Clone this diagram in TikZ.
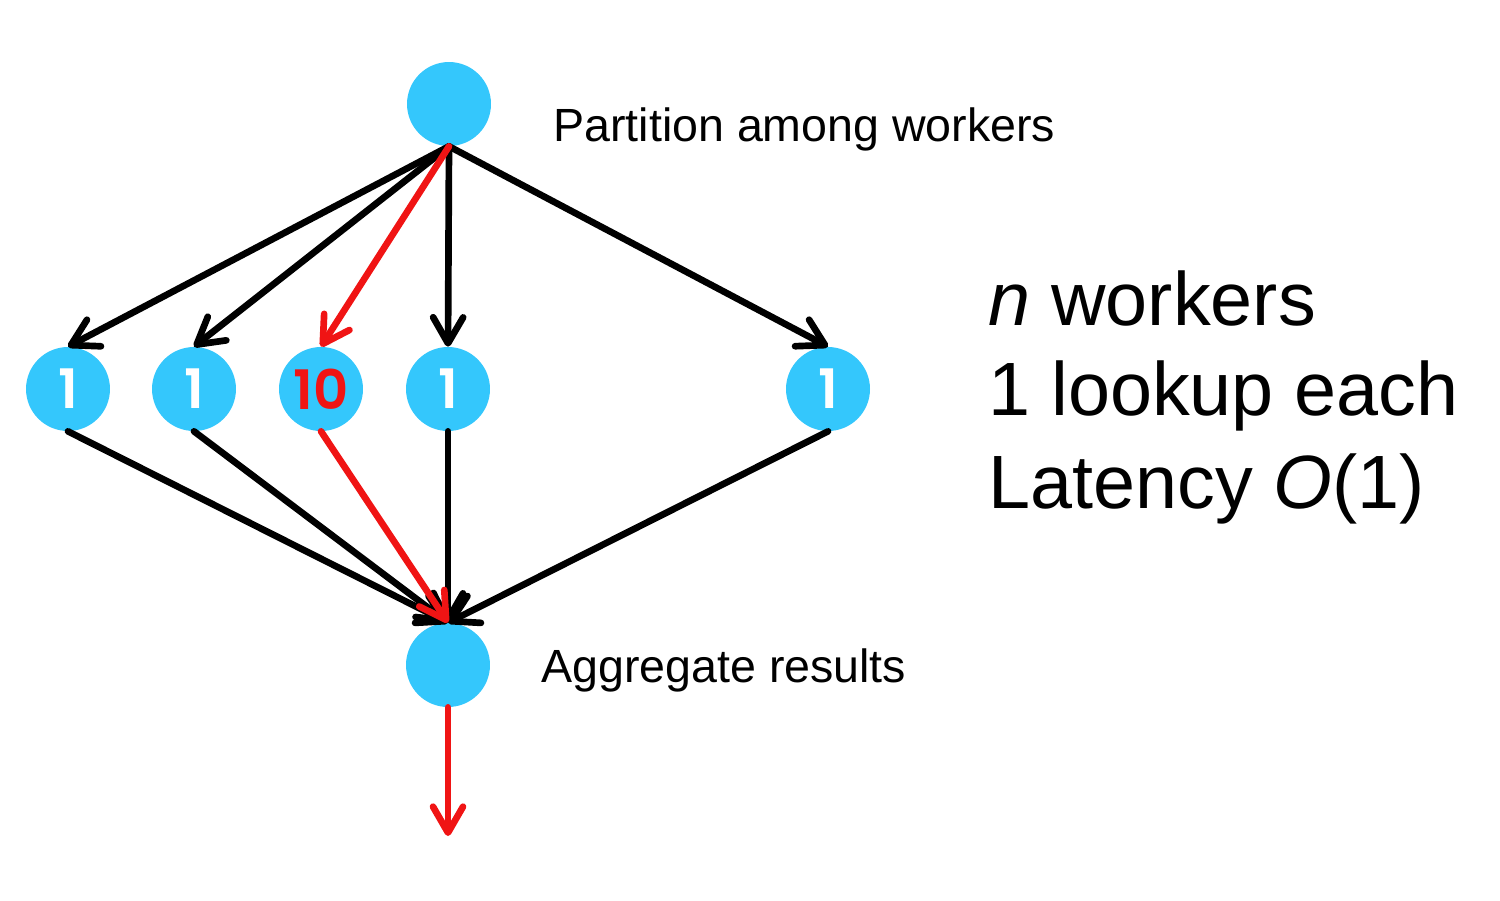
\documentclass[tikz,border=0pt]{standalone}
\usepackage{fontspec}
\setmainfont{Liberation Sans}
\newfontfamily\numfont{Poppins}[UprightFont=* SemiBold]
\usetikzlibrary{arrows.meta}
\definecolor{sky}{RGB}{52,199,252}
\definecolor{redline}{RGB}{240,20,20}
\tikzset{
  ball/.style={circle, fill=sky, minimum size=1.68cm, inner sep=0pt},
  numtxt/.style={font=\numfont\fontsize{31}{31}\selectfont},
  conn/.style={line width=3.8pt, line cap=round, black, -{Straight Barb[round, length=0.52cm, width=0.6cm, line width=3.8pt]}},
  redconn/.style={conn, redline},
  lbl/.style={font=\fontsize{26.5}{30}\selectfont, anchor=base west, inner sep=0pt},
  big/.style={font=\fontsize{43}{52}\selectfont, anchor=base west, inner sep=0pt}
}
\begin{document}
\begin{tikzpicture}[x=0.02cm, y=-0.02cm]
\useasboundingbox (0,0) rectangle (1500,900);
\node[ball] (top) at (449,104) {};
\node[ball, numtxt, text=white] (w1) at (68,389) {1};
\node[ball, numtxt, text=white] (w2) at (194,389) {1};
\node[ball, numtxt, text=redline] (w3) at (321,389) {10};
\node[ball, numtxt, text=white] (w4) at (448,389) {1};
\node[ball, numtxt, text=white] (w5) at (828,389) {1};
\node[ball] (bot) at (448,665) {};
\coordinate (out) at (448,836);

\draw[conn] (top.south) -- (w1.north);
\draw[conn] (top.south) -- (w2.north);
\draw[conn] (top.south) -- (w4.north);
\draw[conn] (top.south) -- (w5.north);
\draw[redconn] (top.south) -- (w3.north);

\draw[conn] (w1.south) -- (bot.north);
\draw[conn] (w2.south) -- (bot.north);
\draw[conn] (w4.south) -- (bot.north);
\draw[conn] (w5.south) -- (bot.north);
\draw[redconn] (w3.south) -- (bot.north);
\draw[redconn] (bot.south) -- (out);

\node[lbl] (ptxt) at (553,141) {Partition among workers};
\node[lbl] (atxt) at (541,682) {Aggregate results};
\node[big] (l1) at (988,325) {\textit{n} workers};
\node[big] (l2) at (988,415) {1 lookup each};
\node[big] (l3) at (988,508) {Latency \textit{O}(1)};
\end{tikzpicture}
\end{document}
